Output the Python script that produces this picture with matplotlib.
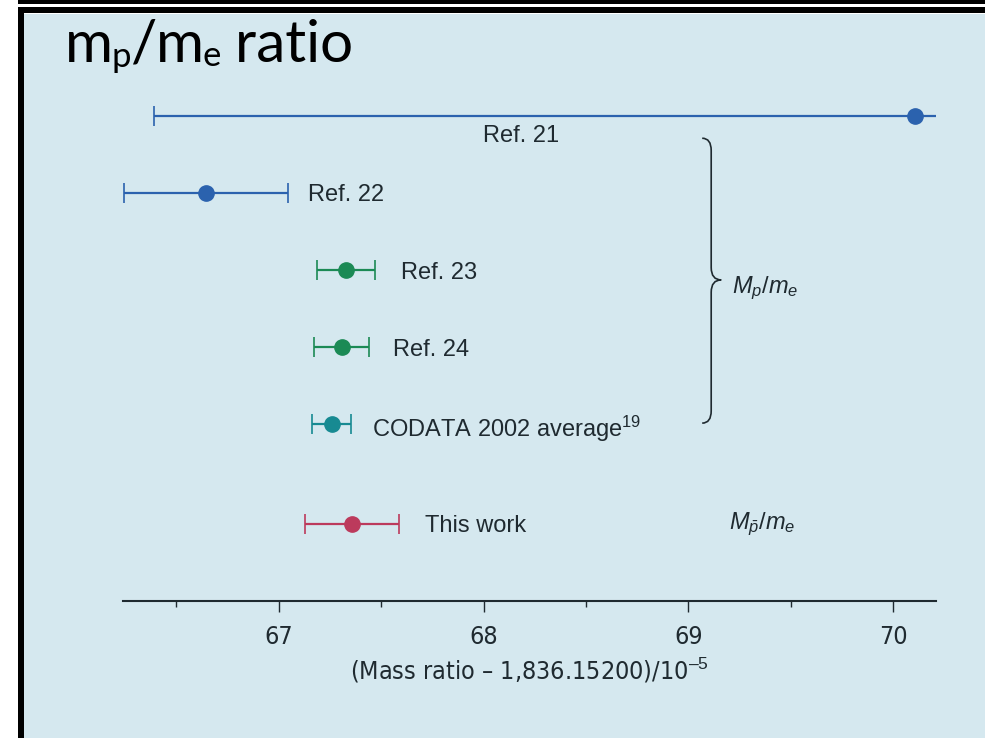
import matplotlib
matplotlib.use('Agg')
import matplotlib.pyplot as plt
from matplotlib.path import Path
from matplotlib.patches import PathPatch, Rectangle
from matplotlib.ticker import MultipleLocator
from matplotlib import font_manager

# mass ratio results, (ratio - 1836.15200) / 1e-5
labels = ['Ref. 21', 'Ref. 22', 'Ref. 23', 'Ref. 24',
          'CODATA 2002 average$^{19}$', 'This work']
values = [70.107, 66.644, 67.327, 67.307, 67.259, 67.356]
errors = [3.717, 0.402, 0.142, 0.135, 0.095, 0.230]
colors = ['#2b62ae', '#2b62ae', '#1b8a55', '#1b8a55', '#178a92', '#bc3a5c']
rows = [6.3, 5.3, 4.3, 3.3, 2.3, 1.0]
label_x = [68.185, 67.141, 67.595, 67.556, 67.454, 67.712]
label_dy = [-20, -2, -3, -3, -5, -2]

bg = '#d5e8ef'
ink = '#1f2a30'

# condensed face for the axis numbers if one is installed
axis_font = {'family': 'Liberation Sans', 'stretch': 'normal'}
for f in font_manager.fontManager.ttflist:
    if f.name == 'Liberation Sans Narrow' and f.style == 'normal' and f.weight in (400, 'normal'):
        axis_font = {'family': 'Liberation Sans Narrow', 'stretch': 'normal'}
        break
else:
    for f in font_manager.fontManager.ttflist:
        if f.name == 'DejaVu Sans' and f.stretch == 'condensed' and f.style == 'normal':
            axis_font = {'family': 'DejaVu Sans', 'stretch': 'condensed'}
            break

plt.rcParams['font.family'] = ['Liberation Sans', 'DejaVu Sans']
plt.rcParams['mathtext.fontset'] = 'custom'
plt.rcParams['mathtext.rm'] = 'Liberation Sans'
plt.rcParams['mathtext.it'] = 'Liberation Sans:italic'

W, H = 985, 738
fig = plt.figure(figsize=(W / 100, H / 100), dpi=100, facecolor='white')

# slide panel with black frame
fig.patches.append(Rectangle((24 / W, 0), 1, 1 - 14 / H, transform=fig.transFigure,
                             facecolor=bg, edgecolor='none', zorder=0))
fig.patches.append(Rectangle((18 / W, 1 - 4 / H), 1, 4 / H, transform=fig.transFigure,
                             facecolor='black', edgecolor='none', zorder=1))
fig.patches.append(Rectangle((18 / W, 1 - 13 / H), 1, 6 / H, transform=fig.transFigure,
                             facecolor='black', edgecolor='none', zorder=1))
fig.patches.append(Rectangle((18 / W, 0), 6 / W, 1 - 7 / H, transform=fig.transFigure,
                             facecolor='black', edgecolor='none', zorder=1))

# slide title, set piece by piece so the subscripts sit tight
renderer = fig.canvas.get_renderer()
title_parts = [('m', 42, 0), ('p', 25, -5), ('/', 42, 0), ('m', 42, 0),
               ('e', 25, -4), (' ratio', 42, 0)]
xpos = 65
for s, size, dy in title_parts:
    t = fig.text(xpos / W, 1 - (62 - dy) / H, s, family='Lato', fontsize=size,
                 va='baseline', ha='left', color='black')
    xpos = t.get_window_extent(renderer).x1 - 1

ax = fig.add_axes([123 / W, 1 - 601 / H, (936 - 123) / W, (601 - 90) / H])
ax.set_zorder(5)
ax.set_facecolor('none')
ax.set_xlim(66.239, 70.21)
ax.set_ylim(0, 511 / 77)

for i in range(len(values)):
    ax.errorbar(values[i], rows[i], xerr=errors[i], fmt='o', color=colors[i],
                markersize=11, elinewidth=1.6, capsize=7.5, capthick=1.2)
    ax.annotate(labels[i], (label_x[i], rows[i]), xytext=(0, label_dy[i]),
                textcoords='offset pixels', ha='center' if i == 0 else 'left',
                va='center', fontsize=17, color=ink)

# curly brace grouping the M_p/m_e determinations
x0, tip, curl = 69.112, 0.049, 0.044
ytop, ymid, ybot, r = 6.01, 4.17, 2.31, 0.16
verts = [(x0 - curl, ytop), (x0, ytop), (x0, ytop - r),
         (x0, ymid + r), (x0, ymid), (x0 + tip, ymid),
         (x0, ymid), (x0, ymid - r),
         (x0, ybot + r), (x0, ybot), (x0 - curl, ybot)]
codes = [Path.MOVETO, Path.CURVE3, Path.CURVE3,
         Path.LINETO, Path.CURVE3, Path.CURVE3,
         Path.CURVE3, Path.CURVE3,
         Path.LINETO, Path.CURVE3, Path.CURVE3]
ax.add_patch(PathPatch(Path(verts, codes), facecolor='none', edgecolor=ink,
                       linewidth=1.2, clip_on=False))

ax.text(69.215, 4.06, r'$M_p/m_e$', fontsize=17, color=ink, ha='left', va='center')
ax.text(69.2, 0.99, r'$M_{\bar{p}}/m_e$', fontsize=17, color=ink, ha='left', va='center')

for side in ['top', 'right', 'left']:
    ax.spines[side].set_visible(False)
ax.spines['bottom'].set_linewidth(1.5)
ax.spines['bottom'].set_color(ink)
ax.set_yticks([])
ax.xaxis.set_major_locator(MultipleLocator(1))
ax.xaxis.set_minor_locator(MultipleLocator(0.5))
ax.tick_params(axis='x', which='major', length=8, width=1, color=ink,
               labelsize=18, labelcolor=ink, pad=9)
ax.tick_params(axis='x', which='minor', length=4, width=1, color=ink)
for lab in ax.get_xticklabels():
    lab.set_family(axis_font['family'])
    lab.set_stretch(axis_font['stretch'])
ax.set_xlabel(r'(Mass ratio – 1,836.15200)/10$^{–5}$', family=axis_font['family'],
              stretch=axis_font['stretch'], fontsize=18, color=ink, labelpad=5)

fig.savefig('out.png', dpi=100, facecolor='white')
